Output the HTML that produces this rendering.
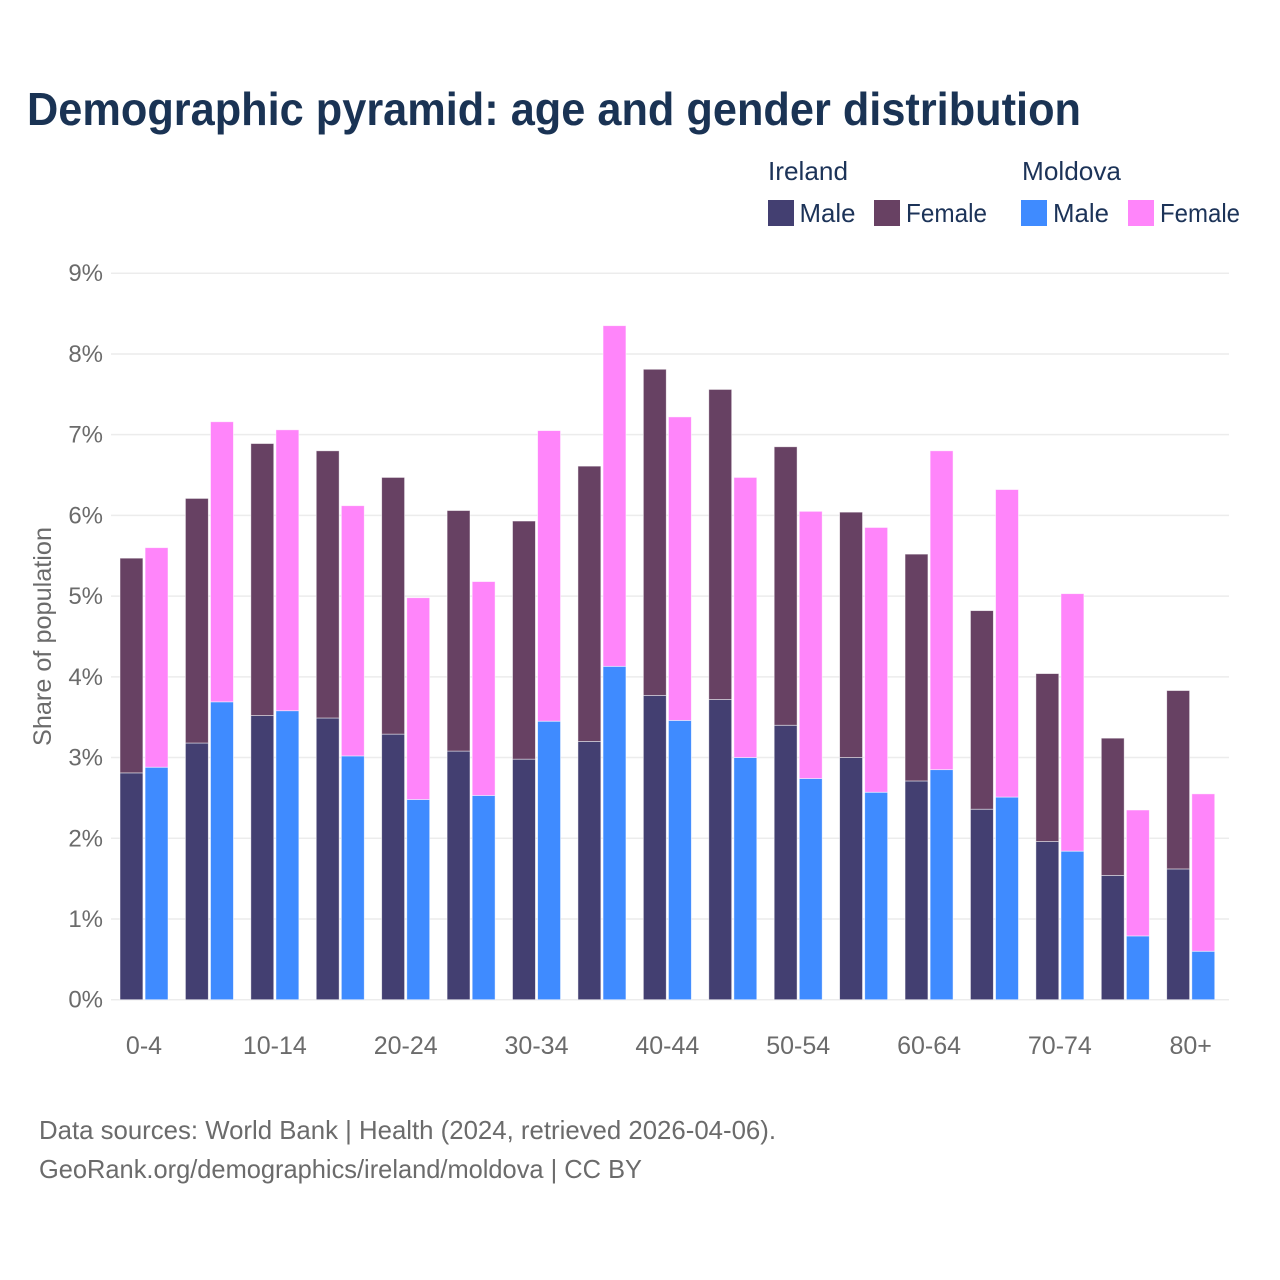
<!DOCTYPE html>
<html lang="en">
<head>
<meta charset="utf-8">
<title>Demographic pyramid</title>
<style>
html,body{margin:0;padding:0;background:#fff;width:1280px;height:1280px;overflow:hidden}
svg{display:block;font-family:"Liberation Sans",sans-serif}
</style>
</head>
<body>
<svg id="chart" xmlns="http://www.w3.org/2000/svg" width="1280" height="1280" viewBox="0 0 1280 1280">
  <rect width="1280" height="1280" fill="#ffffff"/>
  <text x="27" y="125" font-size="46" font-weight="700" fill="#1a3354" textLength="1054" lengthAdjust="spacingAndGlyphs">Demographic pyramid: age and gender distribution</text>

  <g font-size="26" fill="#1c3358">
    <text x="768" y="180" textLength="80" lengthAdjust="spacingAndGlyphs">Ireland</text>
    <text x="1022" y="180" textLength="99" lengthAdjust="spacingAndGlyphs">Moldova</text>
    <rect x="768" y="200" width="26" height="26" fill="#433f71"/>
    <text x="799.5" y="222" textLength="56" lengthAdjust="spacingAndGlyphs">Male</text>
    <rect x="874" y="200" width="26" height="26" fill="#684163"/>
    <text x="906" y="222" textLength="81" lengthAdjust="spacingAndGlyphs">Female</text>
    <rect x="1021" y="200" width="26" height="26" fill="#3f8bff"/>
    <text x="1053" y="222" textLength="56" lengthAdjust="spacingAndGlyphs">Male</text>
    <rect x="1128" y="200" width="26" height="26" fill="#ff85fa"/>
    <text x="1160" y="222" textLength="80" lengthAdjust="spacingAndGlyphs">Female</text>
  </g>

  <g id="grid"></g>
  <g id="yticks"></g>
  <g id="bars"></g>
  <g id="xticks"></g>

  <text transform="translate(51,636.5) rotate(-90)" text-anchor="middle" font-size="25" fill="#6b6b6b" textLength="219" lengthAdjust="spacingAndGlyphs">Share of population</text>

  <text x="39" y="1139" font-size="26" fill="#6b6b6b" textLength="737" lengthAdjust="spacingAndGlyphs">Data sources: World Bank | Health (2024, retrieved 2026-04-06).</text>
  <text x="39" y="1178" font-size="26" fill="#6b6b6b" textLength="603" lengthAdjust="spacingAndGlyphs">GeoRank.org/demographics/ireland/moldova | CC BY</text>
</svg>
<script>
const categories = ["0-4","5-9","10-14","15-19","20-24","25-29","30-34","35-39","40-44","45-49","50-54","55-59","60-64","65-69","70-74","75-79","80+"];
const irelandMale = [2.81,3.18,3.52,3.49,3.29,3.08,2.98,3.20,3.77,3.72,3.40,3.00,2.71,2.36,1.96,1.54,1.62];
const irelandFemale = [2.66,3.03,3.37,3.31,3.18,2.98,2.95,3.41,4.04,3.84,3.45,3.04,2.81,2.46,2.08,1.70,2.21];
const moldovaMale = [2.88,3.69,3.58,3.02,2.48,2.53,3.45,4.13,3.46,3.00,2.74,2.57,2.85,2.51,1.84,0.79,0.60];
const moldovaFemale = [2.72,3.47,3.48,3.10,2.50,2.65,3.60,4.22,3.76,3.47,3.31,3.28,3.95,3.81,3.19,1.56,1.95];
const yTicks = [0,1,2,3,4,5,6,7,8,9];

const NS = "http://www.w3.org/2000/svg";
const plotBottom = 999.7, pxPerUnit = 80.72;
const firstCenter = 144, step = 65.42, barW = 22.9, gap = 1.1;
function yScale(v){ return plotBottom - v * pxPerUnit; }
function xCenter(i){ return firstCenter + i * step; }

const gridG = document.getElementById("grid");
const yG = document.getElementById("yticks");
yTicks.forEach(function(t){
  const line = document.createElementNS(NS,"line");
  
  
  line.setAttribute("x1",111); line.setAttribute("x2",1229);
  line.setAttribute("y1",yScale(t)); line.setAttribute("y2",yScale(t));
  line.setAttribute("stroke","#ececec"); line.setAttribute("stroke-width",1.5);
  gridG.appendChild(line);
  const label = document.createElementNS(NS,"text");
  
  
  label.setAttribute("x",103); label.setAttribute("y",yScale(t)+8);
  label.setAttribute("text-anchor","end"); label.setAttribute("font-size",24);
  label.setAttribute("fill","#6b6b6b");
  label.textContent = t + "%";
  yG.appendChild(label);
});

const barsG = document.getElementById("bars");
function addBar(x, base, val, fill){
  const r = document.createElementNS(NS,"rect");
  
  
  r.setAttribute("x",x); r.setAttribute("width",barW);
  r.setAttribute("y",yScale(base+val)); r.setAttribute("height",val*pxPerUnit);
  r.setAttribute("fill",fill); r.setAttribute("stroke","#ffffff"); r.setAttribute("stroke-opacity",0.6); r.setAttribute("stroke-width",0.8);
  barsG.appendChild(r);
}
categories.forEach(function(c,i){
  const cx = xCenter(i);
  addBar(cx - barW - gap, 0, irelandMale[i], "#433f71");
  addBar(cx - barW - gap, irelandMale[i], irelandFemale[i], "#674163");
  addBar(cx + gap, 0, moldovaMale[i], "#3f8bff");
  addBar(cx + gap, moldovaMale[i], moldovaFemale[i], "#ff85fa");
});

const xG = document.getElementById("xticks");
categories.forEach(function(c,i){
  if(i % 2 !== 0) return;
  const label = document.createElementNS(NS,"text");
  
  
  label.setAttribute("x",xCenter(i)); label.setAttribute("y",1054);
  label.setAttribute("text-anchor","middle"); label.setAttribute("font-size",25);
  label.setAttribute("fill","#6b6b6b");
  label.textContent = c;
  xG.appendChild(label);
});
</script>
</body>
</html>
